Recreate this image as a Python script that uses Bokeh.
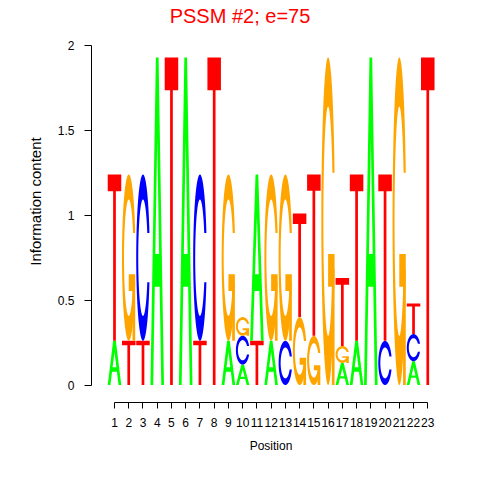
import numpy as np
from bokeh.plotting import figure
from bokeh.models import FixedTicker, Range1d, Label
from bokeh.embed import file_html
from bokeh.resources import INLINE

# ---------------- data ----------------
positions = list(range(1, 24))
x_tick_labels = [str(i) for i in positions]
y_ticks = [0, 0.5, 1, 1.5, 2]
y_tick_labels = ["0", "0.5", "1", "1.5", "2"]

height_A = [0.26, 0, 0, 1.93, 0, 1.93, 0, 0, 0.26, 0.12, 0.98, 0.26, 0, 0, 0, 0, 0.13, 0.26, 1.93, 0, 0, 0.14, 0]
height_C = [0, 0, 0.98, 0, 0, 0, 0.98, 0, 0, 0.17, 0, 0, 0.26, 0, 0, 0, 0, 0, 0, 0.26, 0, 0.16, 0]
height_G = [0, 0.98, 0, 0, 0, 0, 0, 0, 0.98, 0.11, 0, 0.98, 0.98, 0.40, 0.29, 1.93, 0.10, 0, 0, 0, 1.93, 0, 0]
height_T = [0.98, 0.26, 0.26, 0, 1.93, 0, 0.26, 1.93, 0, 0, 0.26, 0, 0, 0.61, 0.95, 0, 0.40, 0.98, 0, 0.98, 0, 0.18, 1.93]
# bottom-to-top stacking order at each position
stack_order = ["AT", "TG", "TC", "A", "T", "A", "TC", "T", "AG", "ACG", "TA", "AG",
               "CG", "GT", "GT", "G", "AGT", "AT", "A", "CT", "G", "ACT", "T"]

title_text = "PSSM #2; e=75"
x_label = "Position"
y_label = "Information content"

heights = {"A": height_A, "C": height_C, "G": height_G, "T": height_T}
colors = {"A": "#00FF00", "C": "#0000FF", "G": "#FFA500", "T": "#FF0000"}

# ---------------- layout (pixels) ----------------
W, H = 480, 480
frame_left, frame_width = 91, 359
frame_top, frame_height = 0, 402
px_x = 14.24          # pixels per position
px_y = 169.75         # pixels per bit
first_pos_px = 114    # pixel of position 1
zero_px = 384.5       # pixel of 0 bits

x_start = positions[0] - (first_pos_px - frame_left) / px_x
x_end = x_start + frame_width / px_x
y_end = (zero_px - frame_top) / px_y
y_start = y_end - frame_height / px_y

# ---------------- letter outline templates (unit square) ----------------
def ring():
    a1 = np.linspace(0.3 + np.pi / 2, np.pi, 100)
    a2 = np.linspace(np.pi, 1.5 * np.pi, 100)
    xl1 = 0.5 + 0.5 * np.sin(a1); yl1 = 0.5 + 0.5 * np.cos(a1)
    xl2 = 0.5 + 0.5 * np.sin(a2); yl2 = 0.5 + 0.5 * np.cos(a2)
    xl = np.concatenate([xl1, xl2]); yl = np.concatenate([yl1, yl2])
    xo = np.concatenate([xl, xl[::-1]]); yo = np.concatenate([yl, 1 - yl[::-1]])
    xi1 = 0.5 + 0.35 * np.sin(a1); yi1 = 0.5 + 0.35 * np.cos(a1)
    keep = yi1 <= yl1.max()
    xi1 = xi1[keep]; yi1 = yi1[keep]; yi1[0] = yl1.max()
    xi2 = 0.5 + 0.35 * np.sin(a2); yi2 = 0.5 + 0.35 * np.cos(a2)
    xi = np.concatenate([xi1, xi2]); yi = np.concatenate([yi1, yi2])
    x1 = np.concatenate([xi, xi[::-1]]); y1 = np.concatenate([yi, 1 - yi[::-1]])
    x = np.concatenate([xo, x1[::-1]]); y = np.concatenate([yo, y1[::-1]])
    return x, y, xl1.max()

cx, cy, r1 = ring()
h1 = 0.4
shapes = {
    "A": [(np.array([0, 4, 6, 10, 8, 6.8, 3.2, 2]) / 10, np.array([0, 10, 10, 0, 0, 3, 3, 0]) / 10,
           [(np.array([3.6, 5, 6.4]) / 10, np.array([4, 7.5, 4]) / 10)])],
    "T": [(np.array([0, 10, 10, 6, 6, 4, 4, 0]) / 10, np.array([10, 10, 9, 9, 0, 0, 9, 9]) / 10, [])],
    "C": [(cx, cy, [])],
    "G": [(cx, cy, []),
          (np.array([r1, 0.5, 0.5, r1 - 0.2, r1 - 0.2, r1, r1]),
           np.array([h1, h1, h1 - 0.1, h1 - 0.1, 0, 0, h1]), [])],
}

w = 0.95
xs, ys, fills = [], [], []
for i, pos in enumerate(positions):
    base = 0.0
    for letter in stack_order[i]:
        h = heights[letter][i]
        for (px, py, holes) in shapes[letter]:
            rx = [list(pos - w / 2 + w * px)] + [list(pos - w / 2 + w * hx) for hx, hy in holes]
            ry = [list(base + h * py)] + [list(base + h * hy) for hx, hy in holes]
            xs.append([rx]); ys.append([ry]); fills.append(colors[letter])
        base += h

# ---------------- figure ----------------
p = figure(frame_width=frame_width, frame_height=frame_height,
           x_range=Range1d(x_start, x_end), y_range=Range1d(y_start, y_end),
           output_backend="svg", toolbar_location=None,
           min_border_left=frame_left, min_border_right=W - frame_left - frame_width,
           min_border_top=frame_top, min_border_bottom=H - frame_top - frame_height)
p.multi_polygons(xs=xs, ys=ys, fill_color=fills, line_color=None)

# title (drawn as a label in the upper part of the frame)
title_cx_px, title_base_px = 239.5, 15
p.add_layout(Label(x=x_start + (title_cx_px - frame_left) / px_x,
                   y=y_end - (title_base_px - frame_top) / px_y,
                   text=title_text, text_align="center", text_baseline="alphabetic",
                   text_font="Liberation Sans", text_font_size="20px", text_color="#FF0000"))

p.grid.visible = False
p.outline_line_color = None
p.background_fill_color = "white"
p.border_fill_color = "white"

for ax in (p.xaxis[0], p.yaxis[0]):
    ax.axis_line_color = "black"
    ax.major_tick_line_color = "black"
    ax.minor_tick_line_color = None
    ax.major_tick_in = 0
    ax.major_label_text_font = "Liberation Sans"
    ax.major_label_text_font_size = "12px"
    ax.major_label_text_color = "black"
    ax.axis_label_text_font = "Liberation Sans"
    ax.axis_label_text_font_style = "normal"
    ax.axis_label_text_color = "black"

xa = p.xaxis[0]
xa.ticker = FixedTicker(ticks=positions)
xa.major_label_overrides = {k: v for k, v in zip(positions, x_tick_labels)}
xa.bounds = (positions[0], positions[-1])
xa.major_tick_out = 6
xa.major_label_standoff = 9
xa.axis_label = x_label
xa.axis_label_text_font_size = "12px"
xa.axis_label_standoff = 9

ya = p.yaxis[0]
ya.ticker = FixedTicker(ticks=y_ticks)
ya.major_label_overrides = {float(k): v for k, v in zip(y_ticks, y_tick_labels)}
ya.bounds = (y_ticks[0], y_ticks[-1])
ya.major_tick_out = 7
ya.major_label_standoff = 10
ya.major_label_orientation = "horizontal"
ya.axis_label = y_label
ya.axis_label_text_font_size = "15px"
ya.axis_label_standoff = 11

open("out.html", "w").write(file_html(p, INLINE, title=title_text))
